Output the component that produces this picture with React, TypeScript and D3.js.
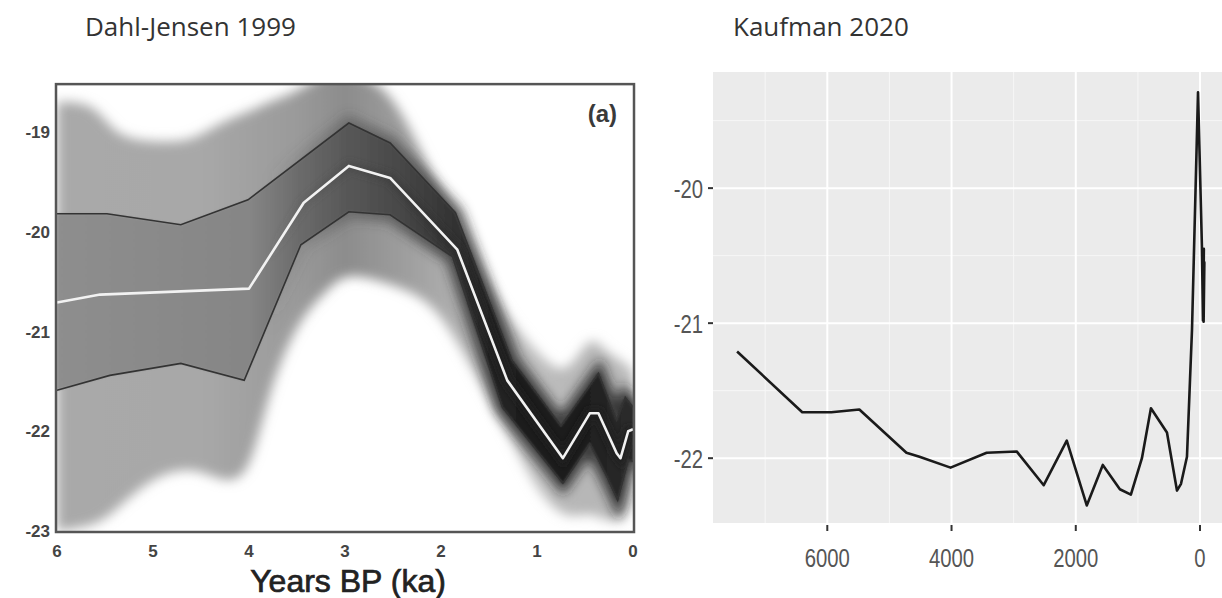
import React, { useEffect, useRef } from 'react'
import * as d3 from 'd3'

// Dahl-Jensen 1999: ages in ka BP, temperature in deg C
const djCenterAge = [6, 5.55, 4.0, 3.43, 2.96, 2.53, 1.83, 1.31, 0.73, 0.45, 0.36, 0.17, 0.13, 0.05, 0]
const djCenterTemp = [-20.71, -20.63, -20.57, -19.71, -19.34, -19.46, -20.18, -21.49, -22.27, -21.82, -21.82, -22.22, -22.27, -22.0, -21.98]

const djUpperAge = [6, 5.48, 4.71, 4.01, 2.96, 2.53, 1.85, 1.26, 0.75, 0.36, 0.17, 0.08, 0]
const djUpperTemp = [-19.82, -19.82, -19.93, -19.68, -18.91, -19.11, -19.81, -21.29, -21.95, -21.42, -21.89, -21.66, -21.76]

const djLowerAge = [6, 5.45, 4.71, 4.05, 3.46, 2.96, 2.53, 1.88, 1.36, 0.73, 0.45, 0.27, 0.16, 0.05, 0]
const djLowerTemp = [-21.59, -21.44, -21.32, -21.49, -20.13, -19.8, -19.83, -20.25, -21.76, -22.52, -22.12, -22.46, -22.69, -22.29, -22.3]

// grey probability cloud, outer extent
const djCloudAge = [6, 5.6, 5.4, 5.0, 4.6, 4.3, 4.0, 3.8, 3.5, 3.2, 3.0, 2.6, 2.3, 2.0, 1.6, 1.2, 1.0, 0.7, 0.45, 0.3, 0.1, 0]
const djCloudTop = [-18.7, -18.7, -19.05, -19.1, -19.1, -18.9, -18.8, -18.7, -18.6, -18.4, -18.4, -18.5, -19.0, -19.6, -20.4, -21.0, -21.2, -21.5, -21.0, -21.2, -21.3, -21.4]
const djCloudBottom = [-23.0, -22.95, -22.8, -22.45, -22.35, -22.5, -22.5, -21.6, -20.9, -20.6, -20.4, -20.5, -20.6, -20.8, -21.5, -22.2, -22.6, -22.9, -22.8, -22.9, -22.9, -22.7]

const djXTicks = [6, 5, 4, 3, 2, 1, 0]
const djYTicks = [-19, -20, -21, -22, -23]

// Kaufman 2020: years BP, temperature in deg C
const kfYear = [7452, 6403, 5935, 5484, 4726, 4516, 4016, 3435, 2952, 2516, 2145, 1823, 1565, 1290, 1113, 935, 790, 532, 371, 306, 210, 161, 129, 32, -30, -48, -62, -52, -70, -58, -66]
const kfTemp = [-21.21, -21.66, -21.66, -21.64, -21.96, -21.99, -22.07, -21.96, -21.95, -22.2, -21.87, -22.35, -22.05, -22.23, -22.27, -22.0, -21.63, -21.81, -22.24, -22.19, -21.99, -21.42, -21.05, -19.29, -20.42, -20.98, -20.45, -20.95, -20.55, -20.99, -20.7]

const kfXTicks = [6000, 4000, 2000, 0]
const kfXMinor = [7000, 5000, 3000, 1000]
const kfYTicks = [-20, -21, -22]
const kfYMinor = [-19.5, -20.5, -21.5]

const W = 1222, H = 598

export default function App() {
  const ref = useRef<SVGSVGElement>(null)

  useEffect(() => {
    const svg = d3.select(ref.current)
    svg.selectAll('*').remove()
    const defs = svg.append('defs')

    // titles
    svg.append('text').attr('x', 85).attr('y', 36).text('Dahl-Jensen 1999')
      .style('font-family', 'Open Sans, Noto Sans, sans-serif').style('font-size', '26px').attr('fill', '#333')
    svg.append('text').attr('x', 733).attr('y', 36).text('Kaufman 2020')
      .style('font-family', 'Open Sans, Noto Sans, sans-serif').style('font-size', '26px').attr('fill', '#333')

    // ---------- left panel ----------
    const x = d3.scaleLinear().domain([6, 0]).range([57, 633])
    const y = d3.scaleLinear().domain([-23, -19]).range([531, 132])
    const fx0 = 56, fx1 = 634, fy0 = y(-18.52), fy1 = 532

    defs.append('clipPath').attr('id', 'djclip').append('rect')
      .attr('x', fx0).attr('y', fy0).attr('width', fx1 - fx0).attr('height', fy1 - fy0)
    const blur = (id: string, s: number) =>
      defs.append('filter').attr('id', id).attr('x', '-20%').attr('y', '-20%').attr('width', '140%').attr('height', '140%')
        .append('feGaussianBlur').attr('stdDeviation', s)
    blur('b6', 6)
    blur('b3', 3)
    blur('b1', 1.2)

    const grad = (id: string, stops: [number, string, number?][]) => {
      const g = defs.append('linearGradient').attr('id', id).attr('gradientUnits', 'userSpaceOnUse')
        .attr('x1', x(6)).attr('x2', x(0)).attr('y1', 0).attr('y2', 0)
      stops.forEach(([a, c, o]) => g.append('stop')
        .attr('offset', (x(a) - x(6)) / (x(0) - x(6))).attr('stop-color', c).attr('stop-opacity', o ?? 1))
    }
    grad('cloudG', [[6, '#a9a9a9'], [4.5, '#a8a8a8'], [3.5, '#9a9a9a'], [3, '#8c8c8c'], [2.5, '#9a9a9a'], [2, '#aaaaaa'], [1.5, '#b6b6b6'], [1, '#bebebe'], [0.5, '#b6b6b6'], [0, '#bababa']])
    grad('bandG', [[6, '#8e8e8e'], [4, '#868686'], [3.5, '#6c6c6c'], [3, '#585858'], [2.5, '#4a4a4a'], [2, '#383838'], [1.5, '#242424'], [1, '#1c1c1c'], [0.5, '#1e1e1e'], [0, '#2c2c2c']])
    grad('haloG', [[6, '#666', 0], [3.8, '#555', 0], [3, '#444', 0.45], [2.2, '#333', 0.75], [1.5, '#222', 0.85], [0, '#222', 0.85]])

    const left = svg.append('g').attr('clip-path', 'url(#djclip)')
    const cloud = djCloudAge.map((a, i) => ({ a, t: djCloudTop[i], b: djCloudBottom[i] }))
    left.append('path')
      .attr('d', d3.area<{ a: number, t: number, b: number }>()
        .x(d => x(d.a)).y0(d => y(d.b)).y1(d => y(d.t)).curve(d3.curveBasis)(cloud))
      .attr('fill', 'url(#cloudG)').attr('filter', 'url(#b6)')

    const pts = (ages: number[], temps: number[]) => ages.map((a, i) => [a, temps[i]] as [number, number])
    const line = d3.line<[number, number]>().x(d => x(d[0])).y(d => y(d[1]))
    const upper = pts(djUpperAge, djUpperTemp)
    const lower = pts(djLowerAge, djLowerTemp)
    const center = pts(djCenterAge, djCenterTemp)
    const bandD = line([...upper, ...lower.slice().reverse()]) + 'Z'

    left.append('path').attr('d', bandD).attr('fill', 'none')
      .attr('stroke', 'url(#haloG)').attr('stroke-width', 14).attr('filter', 'url(#b6)')
    left.append('path').attr('d', bandD).attr('fill', 'url(#bandG)').attr('filter', 'url(#b1)')
    left.append('path').attr('d', line(center)).attr('fill', 'none')
      .attr('stroke', 'url(#haloG)').attr('stroke-width', 10).attr('filter', 'url(#b3)')

    left.append('path').attr('d', line(upper)).attr('fill', 'none').attr('stroke', '#333').attr('stroke-width', 1.6)
    left.append('path').attr('d', line(lower)).attr('fill', 'none').attr('stroke', '#333').attr('stroke-width', 1.6)
    left.append('path').attr('d', line(center)).attr('fill', 'none').attr('stroke', '#f2f2f2')
      .attr('stroke-width', 2.6).attr('stroke-linejoin', 'round')

    svg.append('rect').attr('x', fx0).attr('y', fy0).attr('width', fx1 - fx0).attr('height', fy1 - fy0)
      .attr('fill', 'none').attr('stroke', '#555').attr('stroke-width', 2.5)

    const arial = 'Liberation Sans, Arial, sans-serif'
    svg.append('text').attr('x', 617).attr('y', 122).attr('text-anchor', 'end').text('(a)')
      .style('font-family', arial).style('font-size', '24px').style('font-weight', 'bold').attr('fill', '#3a3a3a')

    svg.append('g').selectAll('text').data(djYTicks).join('text')
      .attr('x', 50).attr('y', d => y(d) + 6).attr('text-anchor', 'end').text(d => String(d))
      .style('font-family', arial).style('font-size', '17px').style('font-weight', 'bold').attr('fill', '#444')
    svg.append('g').selectAll('text').data(djXTicks).join('text')
      .attr('x', d => x(d)).attr('y', 557).attr('text-anchor', 'middle').text(d => String(d))
      .style('font-family', arial).style('font-size', '17px').style('font-weight', 'bold').attr('fill', '#444')
    svg.append('text').attr('x', (x(6) + x(0)) / 2 + 3).attr('y', 592).attr('text-anchor', 'middle')
      .text('Years BP (ka)')
      .style('font-family', arial).style('font-size', '32px').attr('fill', '#222')
      .attr('stroke', '#222').attr('stroke-width', 0.7)

    // ---------- right panel (ggplot style) ----------
    const kx = d3.scaleLinear().domain([7840, -354]).range([713, 1222])
    const ky = d3.scaleLinear().domain([-22.48, -19.14]).range([523, 72])
    const right = svg.append('g')
    right.append('rect').attr('x', kx.range()[0]).attr('y', ky.range()[1])
      .attr('width', kx.range()[1] - kx.range()[0]).attr('height', ky.range()[0] - ky.range()[1]).attr('fill', '#ebebeb')
    right.append('g').selectAll('line').data(kfXMinor).join('line')
      .attr('x1', d => kx(d)).attr('x2', d => kx(d)).attr('y1', 72).attr('y2', 523).attr('stroke', '#f7f7f7').attr('stroke-width', 1)
    right.append('g').selectAll('line').data(kfYMinor).join('line')
      .attr('y1', d => ky(d)).attr('y2', d => ky(d)).attr('x1', 713).attr('x2', 1222).attr('stroke', '#f7f7f7').attr('stroke-width', 1)
    right.append('g').selectAll('line').data(kfXTicks).join('line')
      .attr('x1', d => kx(d)).attr('x2', d => kx(d)).attr('y1', 72).attr('y2', 523).attr('stroke', '#fff').attr('stroke-width', 2)
    right.append('g').selectAll('line').data(kfYTicks).join('line')
      .attr('y1', d => ky(d)).attr('y2', d => ky(d)).attr('x1', 713).attr('x2', 1222).attr('stroke', '#fff').attr('stroke-width', 2)

    right.append('path').datum(kfYear.map((yr, i) => [yr, kfTemp[i]] as [number, number]))
      .attr('d', d3.line<[number, number]>().x(d => kx(d[0])).y(d => ky(d[1])))
      .attr('fill', 'none').attr('stroke', '#1a1a1a').attr('stroke-width', 2.6).attr('stroke-linejoin', 'round')

    // axis ticks and labels
    right.append('g').selectAll('line').data(kfYTicks).join('line')
      .attr('x1', 708).attr('x2', 713).attr('y1', d => ky(d)).attr('y2', d => ky(d)).attr('stroke', '#333').attr('stroke-width', 2)
    right.append('g').selectAll('line').data(kfXTicks).join('line')
      .attr('y1', 525).attr('y2', 531).attr('x1', d => kx(d)).attr('x2', d => kx(d)).attr('stroke', '#333').attr('stroke-width', 2)
    right.append('g').selectAll('text').data(kfYTicks).join('text')
      .attr('transform', d => `translate(703,${ky(d) + 10}) scale(0.78,1)`)
      .attr('text-anchor', 'end').text(d => String(d))
      .style('font-family', arial).style('font-size', '26px').attr('fill', '#555')
    right.append('g').selectAll('text').data(kfXTicks).join('text')
      .attr('transform', d => `translate(${kx(d)},567) scale(0.78,1)`)
      .attr('text-anchor', 'middle').text(d => String(d))
      .style('font-family', arial).style('font-size', '26px').attr('fill', '#555')
  }, [])

  return (
    <svg ref={ref} width={W} height={H} style={{ position: 'absolute', left: 0, top: 0, background: '#fff' }} />
  )
}
